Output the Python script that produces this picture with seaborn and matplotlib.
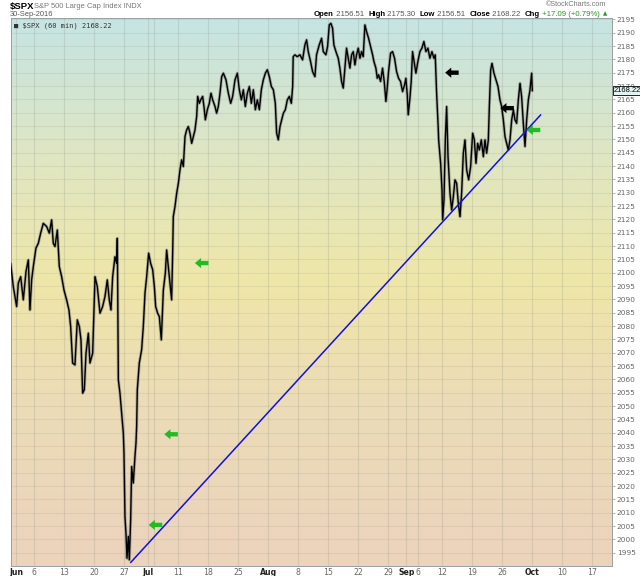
import numpy as np
import pandas as pd
import matplotlib
matplotlib.use("Agg")
import matplotlib.pyplot as plt
import seaborn as sns
from matplotlib.colors import LinearSegmentedColormap
from matplotlib.path import Path

# ---------------- data (x = trading-day index from Jun 1, 2016) ----------------
jun_x = [-0.94, -0.50, 0.06, 0.34, 0.73, 1.17, 1.62, 2.01, 2.28, 2.56, 2.84, 3.28, 3.67, 4.06,
         4.50, 5.06, 5.51, 5.89, 6.17, 6.45, 6.84, 7.17, 7.56, 7.95, 8.39, 8.78, 9.06, 9.39,
         9.78, 10.17, 10.51, 10.78, 11.06, 11.34, 11.62, 12.01, 12.28, 12.73, 13.12, 13.50,
         13.95, 14.39, 14.78, 15.17, 15.50, 15.78, 16.06, 16.45, 16.73, 16.84, 17.01, 17.28,
         17.56, 17.84, 17.95, 18.11, 18.28, 18.45, 18.67, 18.84, 19.06, 19.23, 19.50, 19.78,
         19.95, 20.06, 20.17, 20.50, 20.89, 21.17, 21.45, 21.73]
jun_y = [2103.5, 2094.8, 2087.3, 2096.1, 2098.5, 2089.8, 2100.4, 2104.8, 2086.0, 2097.3, 2102.3,
         2109.2, 2111.0, 2114.8, 2118.5, 2117.3, 2114.8, 2119.8, 2111.0, 2109.8, 2116.0, 2102.3,
         2098.5, 2093.5, 2089.8, 2086.0, 2079.8, 2066.1, 2065.4, 2082.3, 2079.8, 2074.8, 2054.8,
         2056.1, 2069.8, 2077.3, 2066.1, 2069.8, 2098.5, 2094.8, 2084.8, 2087.3, 2091.0, 2097.3,
         2089.8, 2086.0, 2098.5, 2106.0, 2103.5, 2112.9, 2059.8, 2054.8, 2047.3, 2039.8, 2032.3,
         2008.6, 2002.3, 1992.9, 2001.1, 1992.3, 2007.3, 2027.3, 2021.1, 2031.1, 2036.1, 2042.3,
         2056.1, 2066.1, 2071.1, 2079.8, 2092.3, 2098.5]

jul_x = [22.06, 22.39, 22.73, 23.01, 23.23, 23.56, 23.84, 24.17, 24.28, 24.51, 24.84, 25.06,
         25.34, 25.62, 25.89, 26.06, 26.17, 26.45, 26.73, 27.01, 27.28, 27.56, 27.84, 28.12,
         28.39, 28.67, 28.95, 29.23, 29.51, 29.78, 30.06, 30.23, 30.51, 30.73, 31.06, 31.28,
         31.51, 31.84, 32.17, 32.45, 32.73, 33.12, 33.39, 33.67, 33.95, 34.23, 34.51, 34.95,
         35.34, 35.73, 36.06, 36.45, 36.84, 37.17, 37.51, 37.84, 38.17, 38.51, 38.84, 39.17,
         39.51, 39.84, 40.17, 40.51, 40.84, 41.17, 41.51, 41.84]
jul_y = [2107.3, 2103.5, 2101.1, 2094.8, 2087.3, 2084.8, 2083.5, 2074.8, 2081.1, 2093.5, 2099.8,
         2108.5, 2102.3, 2096.1, 2089.8, 2107.3, 2121.1, 2124.8, 2129.8, 2133.5, 2138.5, 2142.3,
         2139.8, 2151.1, 2153.5, 2154.8, 2152.3, 2148.5, 2151.1, 2153.5, 2158.5, 2166.1, 2163.5,
         2164.8, 2166.1, 2162.3, 2157.3, 2161.1, 2163.5, 2167.3, 2164.8, 2162.3, 2159.8, 2162.3,
         2167.3, 2173.5, 2174.8, 2172.3, 2167.3, 2163.5, 2166.1, 2172.3, 2174.8, 2168.6, 2164.8,
         2168.6, 2162.3, 2167.3, 2169.8, 2163.5, 2168.6, 2161.1, 2164.8, 2161.1, 2168.6, 2172.3,
         2174.8, 2176.1]

aug_x = [42.17, 42.51, 42.84, 43.17, 43.39, 43.67, 43.95, 44.23, 44.51, 44.84, 45.17, 45.51,
         45.84, 46.06, 46.15, 46.43, 46.82, 47.27, 47.71, 48.10, 48.38, 48.66, 49.04, 49.38,
         49.77, 50.04, 50.49, 50.88, 51.16, 51.60, 51.88, 52.16, 52.43, 52.71, 52.93, 53.27,
         53.66, 53.93, 54.21, 54.49, 54.77, 55.04, 55.32, 55.60, 55.88, 56.16, 56.43, 56.71,
         56.99, 57.27, 57.54, 57.82, 58.10, 58.38, 58.71, 59.04, 59.38, 59.60, 59.93, 60.16,
         60.38, 60.71, 61.04, 61.32, 61.60, 61.82, 62.04, 62.38, 62.71, 63.04, 63.38, 63.71,
         64.04, 64.38, 64.71, 64.93]
aug_y = [2173.5, 2169.8, 2168.6, 2163.5, 2152.3, 2149.8, 2154.8, 2157.3, 2159.8, 2161.1, 2164.8,
         2166.1, 2163.5, 2169.8, 2181.0, 2181.7, 2181.0, 2181.7, 2179.8, 2185.4, 2187.3, 2182.9,
         2179.2, 2175.4, 2173.5, 2181.7, 2185.4, 2187.9, 2182.9, 2181.7, 2184.8, 2192.9, 2193.5,
         2191.7, 2185.4, 2182.9, 2180.4, 2176.7, 2171.7, 2169.2, 2176.7, 2184.2, 2180.4, 2176.7,
         2181.7, 2182.9, 2177.9, 2181.7, 2184.2, 2180.4, 2182.9, 2181.0, 2192.9, 2190.4, 2187.9,
         2184.8, 2181.7, 2179.2, 2176.7, 2172.9, 2174.2, 2171.7, 2176.7, 2171.7, 2164.2, 2169.2,
         2175.4, 2182.3, 2182.9, 2180.4, 2175.4, 2172.9, 2171.7, 2167.9, 2170.4, 2172.9]

sep_x = [65.16, 65.32, 65.60, 65.82, 66.04, 66.38, 66.60, 66.93, 67.27, 67.60, 67.93, 68.27,
         68.60, 68.93, 69.27, 69.60, 69.82, 70.04, 70.32, 70.39, 70.72, 70.95, 71.06, 71.28,
         71.50, 71.72, 71.95, 72.28, 72.56, 72.84, 73.11, 73.39, 73.67, 73.95, 74.22, 74.50,
         74.78, 75.06, 75.39, 75.72, 76.06, 76.34, 76.61, 76.89, 77.17, 77.50, 77.84, 78.11,
         78.39, 78.67, 78.84, 79.06, 79.28, 79.61, 79.95, 80.28, 80.61, 80.89, 81.17, 81.45,
         81.72, 82.00, 82.28, 82.56, 82.84, 83.11, 83.39, 83.67, 83.95, 84.22, 84.50, 84.78,
         85.06, 85.34, 85.61, 85.89, 86.00]
sep_y = [2166.7, 2159.2, 2165.4, 2171.7, 2182.9, 2177.9, 2174.8, 2179.2, 2182.9, 2184.2, 2186.7,
         2182.9, 2184.2, 2180.4, 2182.9, 2180.4, 2181.7, 2167.9, 2154.2, 2149.8, 2141.0, 2131.0,
         2119.8, 2127.3, 2149.8, 2162.3, 2143.5, 2129.8, 2123.5, 2128.5, 2134.8, 2133.5, 2126.0,
         2121.0, 2129.8, 2144.8, 2149.8, 2138.5, 2134.8, 2139.8, 2152.3, 2149.8, 2141.0, 2148.5,
         2146.0, 2149.8, 2143.5, 2149.8, 2144.8, 2149.8, 2162.3, 2176.0, 2178.5, 2174.8, 2172.3,
         2169.8, 2164.8, 2162.3, 2157.3, 2151.0, 2148.5, 2146.0, 2149.8, 2157.3, 2161.0, 2157.3,
         2156.0, 2164.8, 2171.0, 2166.0, 2156.0, 2147.3, 2157.3, 2164.8, 2168.5, 2174.8, 2168.2]

trend_x = [19.06, 87.4]
trend_y = [1991.3, 2159.2]

green_arrow_x = [23.2, 25.8, 30.9, 86.2]
green_arrow_y = [2005.4, 2039.4, 2103.6, 2153.5]
black_arrow_x = [72.6, 81.8]
black_arrow_y = [2175.0, 2161.7]

tick_pos = [0, 3, 8, 13, 18, 22, 27, 32, 37, 42, 47, 52, 57, 62, 65, 67, 71, 76, 81, 86, 91, 96]
tick_lab = ["Jun", "6", "13", "20", "27", "Jul", "11", "18", "25", "Aug", "8", "15", "22", "29",
            "Sep", "6", "12", "19", "26", "Oct", "10", "17"]
month_labels = {"Jun", "Jul", "Aug", "Sep", "Oct"}
extra_grid = [23]

last_close = 2168.22

# ---------------- figure ----------------
sns.set_theme(style="white")
plt.rcParams["font.family"] = ["DejaVu Sans"]
HF = "Liberation Sans"

fig = plt.figure(figsize=(6.4, 5.76), dpi=100)
fig.patch.set_facecolor("white")
ax = fig.add_axes([10.7 / 640, 10 / 576, (612 - 10.7) / 640, (566 - 18) / 576])

xmin, xmax = -0.93, 99.28
ymin, ymax = 1990.0, 2195.5

# background gradient
cmap = LinearSegmentedColormap.from_list(
    "bg", [(0.0, "#ebd3bd"), (0.30, "#ecdcb6"), (0.52, "#efe6a9"),
           (0.75, "#dfe6c3"), (1.0, "#c5e4e3")])
grad = np.linspace(0, 1, 256).reshape(-1, 1)
ax.imshow(grad, extent=[xmin, xmax, ymin, ymax], origin="lower", aspect="auto",
          cmap=cmap, zorder=0)

# grid
for yv in np.arange(1995, 2196, 5):
    ax.axhline(yv, color=(0.45, 0.5, 0.45, 0.12), lw=0.8, zorder=1)
for xv in list(tick_pos) + extra_grid:
    ax.axvline(xv, color=(0.45, 0.5, 0.45, 0.18), lw=0.8, zorder=1)

# price series (grey halo imitates the anti-aliased hourly bars)
df = pd.DataFrame({
    "x": jun_x + jul_x + aug_x + sep_x,
    "price": jun_y + jul_y + aug_y + sep_y,
})
sns.lineplot(data=df, x="x", y="price", ax=ax, color="#777777", lw=2.2, alpha=0.55,
             sort=False, estimator=None, zorder=3)
sns.lineplot(data=df, x="x", y="price", ax=ax, color="black", lw=1.0,
             sort=False, estimator=None, zorder=4)

# trend line
sns.lineplot(x=trend_x, y=trend_y, ax=ax, color="#1010e0", lw=1.1, sort=False,
             estimator=None, zorder=5)

# arrows
arrow_path = Path([(-1, 0), (-0.1, 0.75), (-0.1, 0.32), (1, 0.32), (1, -0.32),
                   (-0.1, -0.32), (-0.1, -0.75), (-1, 0)],
                  [Path.MOVETO] + [Path.LINETO] * 6 + [Path.CLOSEPOLY])
ax.scatter(green_arrow_x, green_arrow_y, marker=arrow_path, s=95, color="#22bb22",
           edgecolors="none", zorder=6)
ax.scatter(black_arrow_x, black_arrow_y, marker=arrow_path, s=95, color="black",
           edgecolors="none", zorder=6)

ax.set_xlim(xmin, xmax)
ax.set_ylim(ymin, ymax)
ax.set_xlabel("")
ax.set_ylabel("")

# axes ticks
ax.set_xticks(tick_pos)
ax.set_xticklabels(tick_lab)
for lab in ax.get_xticklabels():
    if lab.get_text() in month_labels:
        lab.set_fontweight("bold")
        lab.set_color("#222222")
    else:
        lab.set_color("#666666")
ax.tick_params(axis="x", length=0, pad=1.5, labelsize=5.6)
ax.yaxis.tick_right()
ax.set_yticks(np.arange(1995, 2196, 5))
ax.tick_params(axis="y", length=2, width=0.5, color="#999999", pad=1.5,
               labelsize=5.3, labelcolor="#666666")

for side, sp in ax.spines.items():
    sp.set_color("#9aa0a0")
    sp.set_linewidth(0.7)
ax.spines["right"].set_linestyle((0, (1, 1)))

# last price tag
ax.annotate(f"{last_close:.2f}", xy=(1.0, last_close), xycoords=("axes fraction", "data"),
            xytext=(1.5, 0), textcoords="offset points", ha="left", va="center",
            fontsize=5.4, family=HF, color="black",
            bbox=dict(boxstyle="square,pad=0.12", fc="#e4f2f2", ec="black", lw=0.6),
            zorder=10, annotation_clip=False)

# header texts
fig.text(10 / 640, 1 - 6 / 576, "$SPX", fontsize=6.8, fontweight="bold", color="black",
         va="center", ha="left", family=HF)
fig.text(34 / 640, 1 - 6 / 576, "S&P 500 Large Cap Index INDX", fontsize=5.4,
         color="#777777", va="center", ha="left", family=HF)
fig.text(10 / 640, 1 - 15 / 576, "30-Sep-2016", fontsize=5.4, color="#555555",
         va="center", ha="left", family=HF)
ax.text(0.006, 0.991, "\u25a0 $SPX (60 min) 2168.22", transform=ax.transAxes,
        fontsize=5.0, family="DejaVu Sans Mono", color="#333333", va="top", ha="left",
        zorder=10)

fig.text(606 / 640, 1 - 5 / 576, "\u00a9StockCharts.com", fontsize=5.2, color="#777777",
         va="center", ha="right", family=HF)
hdr = [("Open", True), (" 2156.51  ", False), ("High", True), (" 2175.30  ", False),
       ("Low", True), (" 2156.51  ", False), ("Close", True), (" 2168.22  ", False),
       ("Chg", True), (" +17.09 (+0.79%) ", False)]
fig.canvas.draw()
renderer = fig.canvas.get_renderer()
objs = []
for s, b in hdr:
    t = fig.text(0, 0, s, fontsize=5.6, fontweight="bold" if b else "normal", family=HF,
                 color="black" if b else ("#229922" if "+" in s else "#555555"))
    objs.append(t)
widths = [o.get_window_extent(renderer).width for o in objs]
x_end = 602.0
x_cur = x_end - sum(widths)
for o, w in zip(objs, widths):
    o.set_position((x_cur / 640, 1 - 14 / 576))
    o.set_va("center")
    x_cur += w
fig.text(603 / 640, 1 - 14 / 576, "\u25b2", fontsize=4, color="#229922", va="center",
         ha="left")

fig.savefig("out.png", dpi=100)
